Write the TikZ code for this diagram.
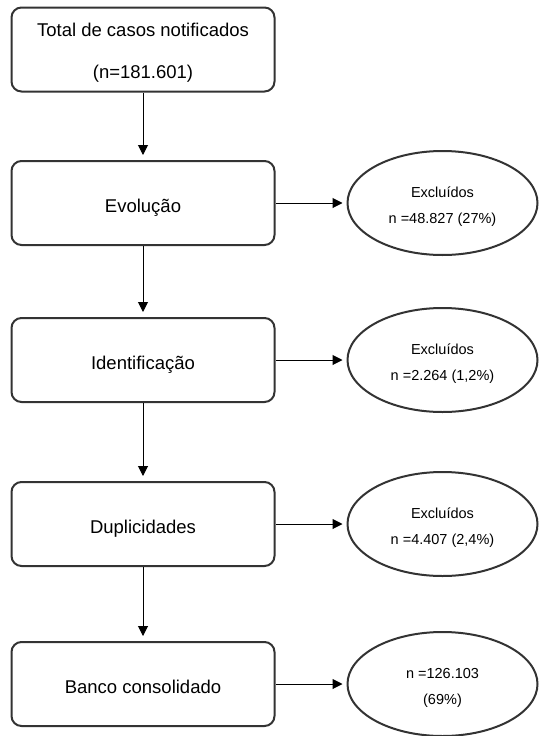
\documentclass[tikz,border=0pt]{standalone}
\usepackage{fontspec}
\setmainfont{Liberation Sans}
\usepackage{tikz}
\usetikzlibrary{shapes.geometric}
\usetikzlibrary{arrows.meta}
\tikzset{l/.style={font=\fontsize{18.5}{22}\selectfont}}
\tikzset{m/.style={font=\fontsize{14.5}{17}\selectfont}}
\tikzset{bx/.style={draw=black!80, line width=2pt, rounded corners=10pt, minimum width=263pt, minimum height=84pt, align=center, l}}
\tikzset{s/.style={text height=23pt, text depth=4pt}}
\tikzset{ov/.style={ellipse, draw=black!80, line width=2pt, minimum width=190pt, minimum height=104pt, inner sep=0pt, align=center, text height=43.5pt, text depth=3pt, m}}

\begin{document}
\begin{tikzpicture}[x=1pt, y=-1pt, line width=1pt, >={Triangle[length=10pt,width=10pt]}]
    \useasboundingbox (0,0) rectangle (539,736);
    \node (tot) at (143,49.5) [bx, text height=62.4pt, text depth=4pt] {Total de casos notificados\\[20pt](n=181.601)};
    \node (evo) at (143,203) [bx, s] {Evolução}
      edge [<-, shorten <=5pt] (tot);
    \node (ide) at (143,360) [bx, s] {Identificação}
      edge [<-, shorten <=5pt] (evo);
    \node (dup) at (143,524) [bx, s] {Duplicidades}
      edge [<-, shorten <=5pt] (ide);
    \node (ban) at (143,684) [bx, s] {Banco consolidado}
      edge [<-, shorten <=5pt] (dup);
    \node (ex1) at (442.5,203) [ov] {Excluídos\\[9pt]n =48.827 (27\%)}
      edge [<-, shorten <=4pt] (evo);
    \node (ex2) at (442.5,360) [ov] {Excluídos\\[9pt]n =2.264 (1,2\%)}
      edge [<-, shorten <=4pt] (ide);
    \node (ex3) at (442.5,524) [ov] {Excluídos\\[9pt]n =4.407 (2,4\%)}
      edge [<-, shorten <=4pt] (dup);
    \node (fim) at (442.5,684) [ov] {n =126.103\\[9pt](69\%)}
      edge [<-, shorten <=4pt] (ban);
  \end{tikzpicture}
\end{document}
